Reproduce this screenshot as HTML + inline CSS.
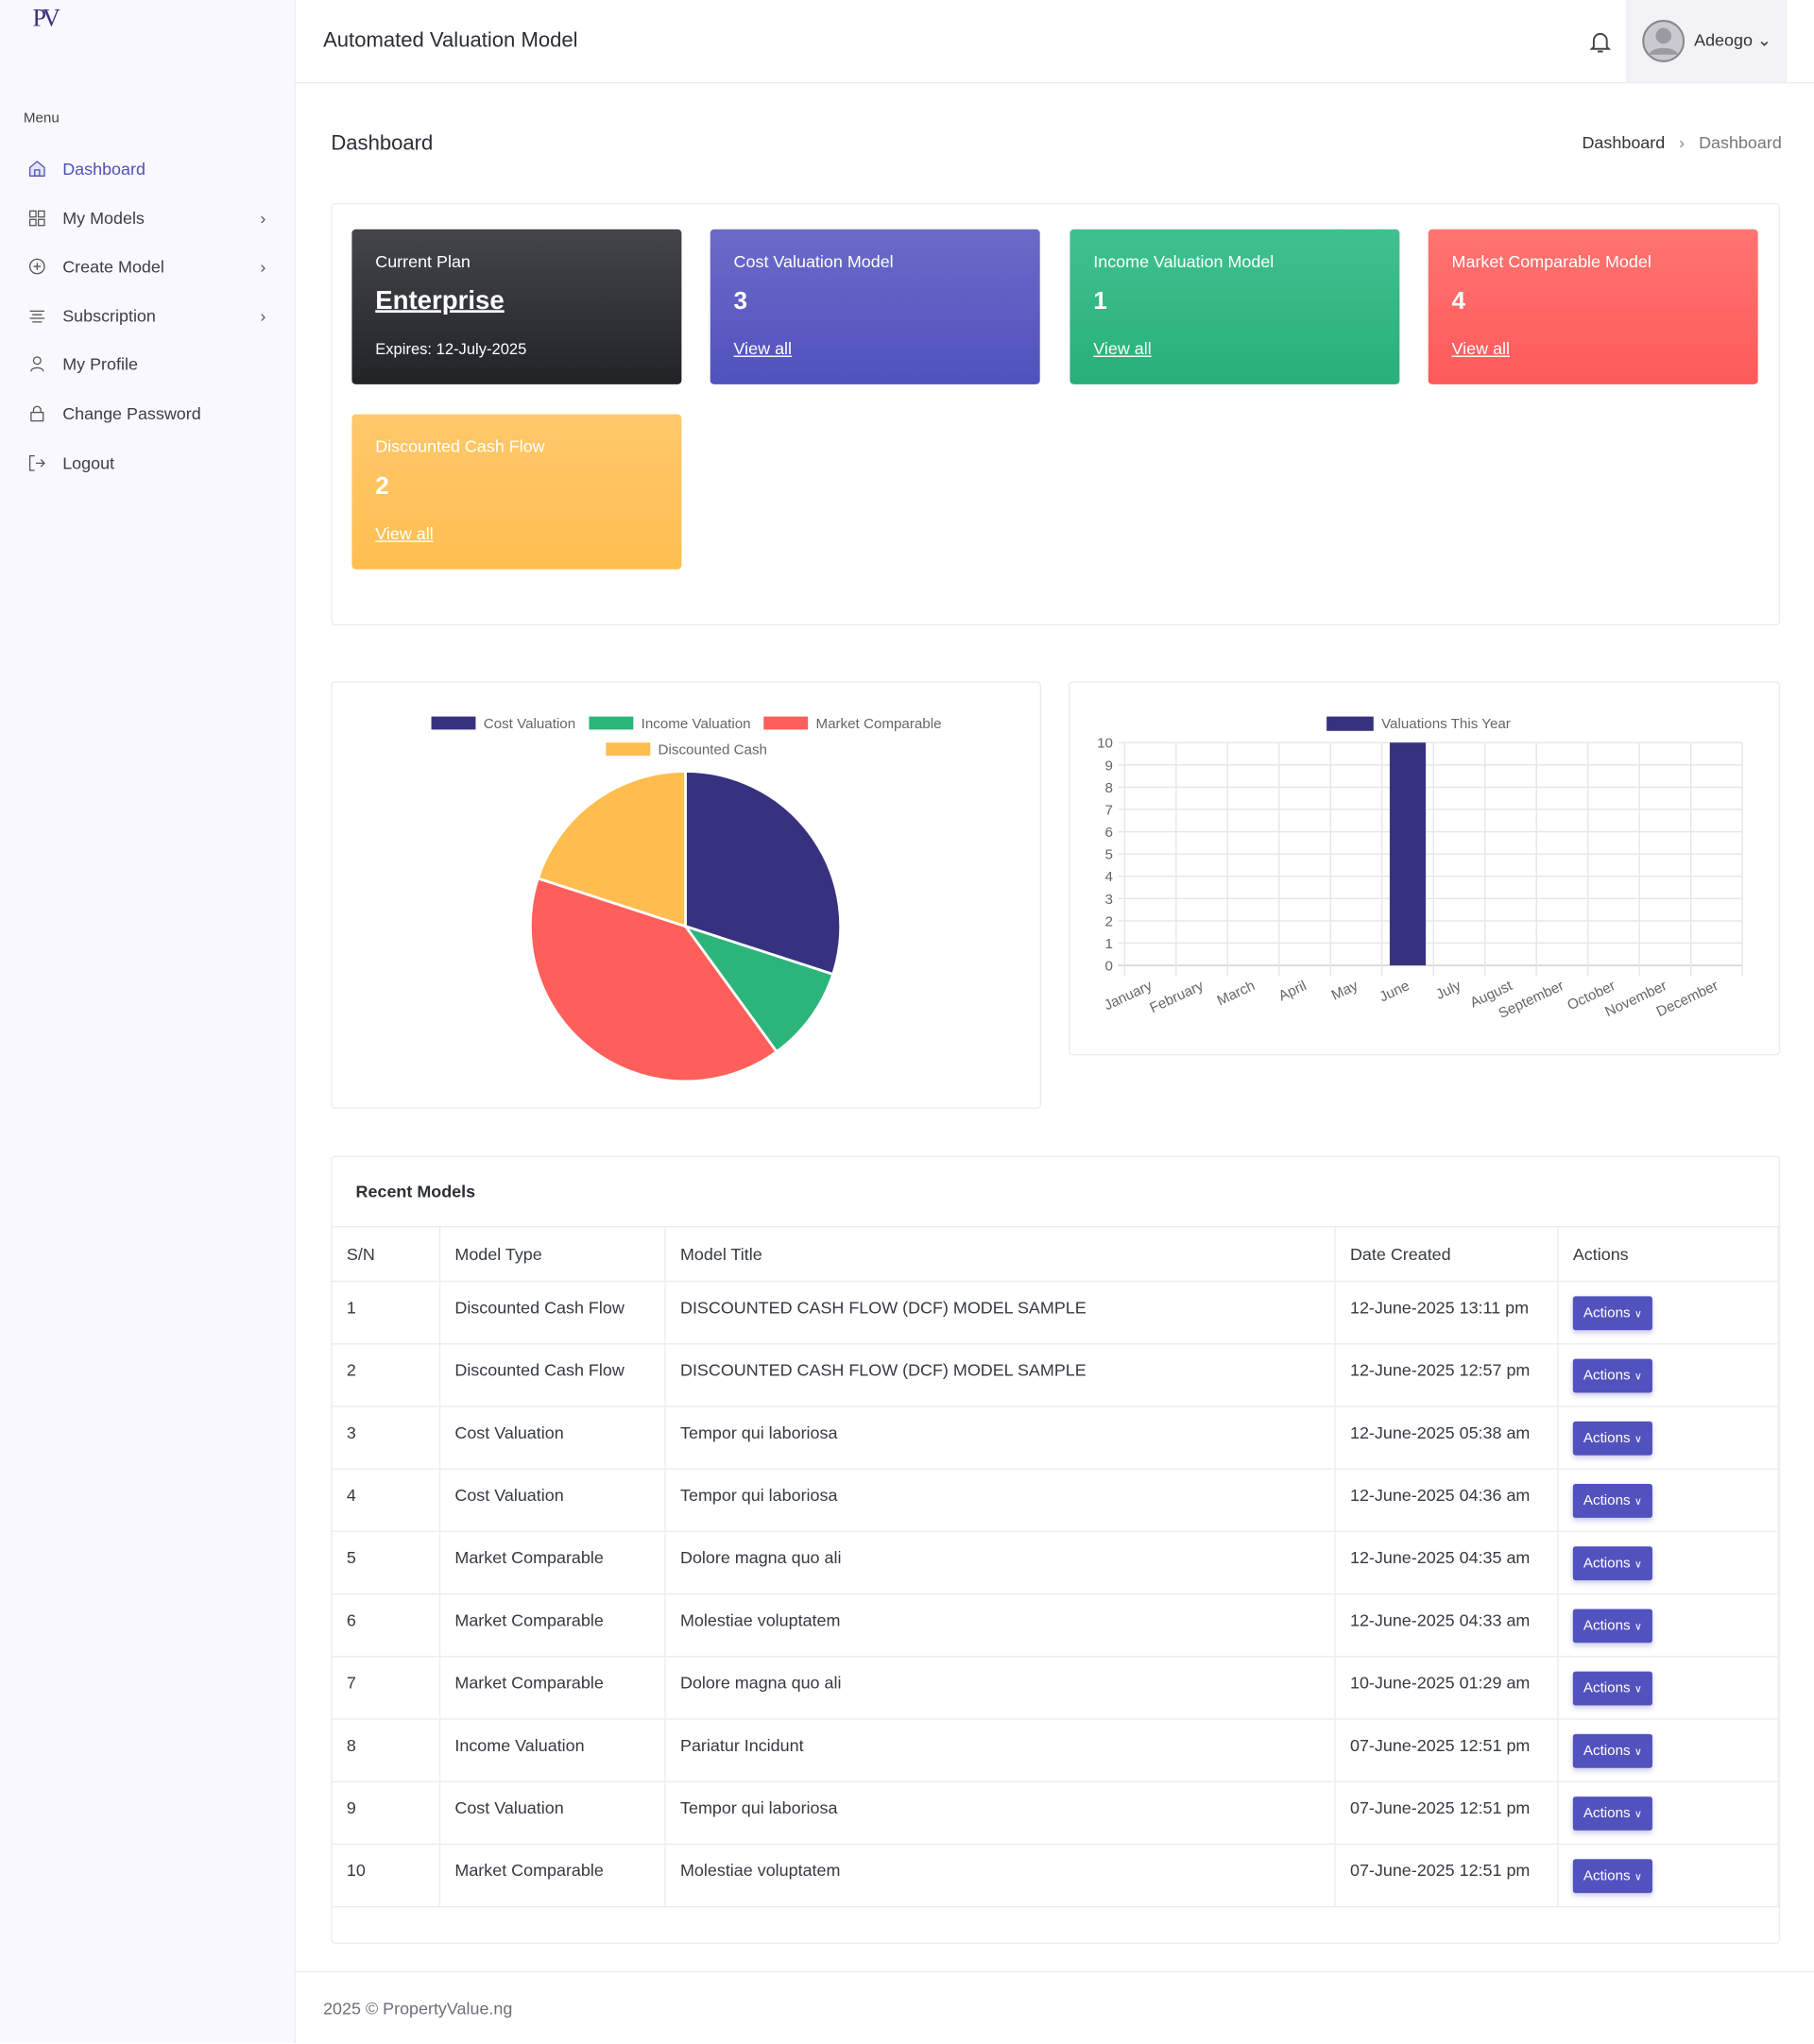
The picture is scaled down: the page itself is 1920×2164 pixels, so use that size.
<!DOCTYPE html>
<html><head><meta charset="utf-8"><style>
html,body{margin:0;padding:0;width:1920px;height:2162px;overflow:hidden;background:#fff;}
#wrap{position:absolute;left:0;top:0;width:1392px;height:1568px;transform:scale(1.37931);transform-origin:0 0;font-family:"Liberation Sans",sans-serif;color:#343a40;}
.abs{position:absolute;}
#sidebar{left:0;top:0;width:226px;height:1568px;background:#f8f8fe;border-right:1px solid #ececf3;}
.mi{position:absolute;left:18px;font-size:13px;color:#3b3f46;height:20px;line-height:20px;width:190px;}
.mi .ic{position:absolute;left:4px;top:3px;width:13px;height:13px;}
.mi .tx{position:absolute;left:30px;}
.mi .ch{position:absolute;right:4px;top:0;color:#555;font-size:13px;}
#header{left:227px;top:0;width:1165px;height:63px;border-bottom:1px solid #ececf3;background:#fff;}
.card{position:absolute;border:1px solid #ececf1;border-radius:3px;background:#fff;}
.stat{position:absolute;width:253px;height:119px;border-radius:3px;color:#fff;}
.stat .t{position:absolute;left:18px;top:17px;font-size:13px;}
.stat .n{position:absolute;left:18px;top:45px;font-size:19px;font-weight:bold;}
.stat .v{position:absolute;left:18px;top:84px;font-size:13px;text-decoration:underline;}
table{border-collapse:collapse;position:absolute;left:254px;top:941px;width:1111px;font-size:13px;color:#343a40;}
td,th{border:1px solid #ececf1;padding:0 11px;text-align:left;font-weight:normal;height:47px;}
tbody td{padding-bottom:8px;height:39px;}
tbody td.a{padding-bottom:0;height:47px;}
th{height:41px;}
.btn{display:inline-block;background:#5252be;color:#fff;font-size:11px;padding:0 8px;height:26px;line-height:26px;border-radius:2px;box-shadow:0 2px 4px rgba(82,82,190,.3);}
</style></head><body>
<div id="wrap">
<div id="sidebar" class="abs">
  <div class="abs" style="left:25px;top:4px;font-family:'Liberation Serif',serif;font-size:19px;color:#37327f;letter-spacing:-3px;">PV</div>
  <div class="abs" style="left:18px;top:85px;font-size:11px;color:#444;">Menu</div>
  <div class="mi" style="top:120px;color:#4f4fb8"><svg class="ic" viewBox="0 0 14 14"><path d="M1 6L7 1l6 5v7H1z" fill="#e4e4f7" stroke="#4f4fb8"/><rect x="5" y="8" width="4" height="5" fill="none" stroke="#4f4fb8"/></svg><span class="tx">Dashboard</span></div>
  <div class="mi" style="top:158px"><svg class="ic" viewBox="0 0 14 14" fill="none" stroke="#555"><rect x="1" y="1" width="5" height="5"/><rect x="8" y="1" width="5" height="5"/><rect x="1" y="8" width="5" height="5"/><rect x="8" y="8" width="5" height="5"/></svg><span class="tx">My Models</span><span class="ch">›</span></div>
  <div class="mi" style="top:195px"><svg class="ic" viewBox="0 0 14 14" fill="none" stroke="#555"><circle cx="7" cy="7" r="6"/><path d="M7 4v6M4 7h6"/></svg><span class="tx">Create Model</span><span class="ch">›</span></div>
  <div class="mi" style="top:233px"><svg class="ic" viewBox="0 0 14 14" fill="none" stroke="#555"><path d="M1 3h12M3 6h8M1 9h12M3 12h8"/></svg><span class="tx">Subscription</span><span class="ch">›</span></div>
  <div class="mi" style="top:270px"><svg class="ic" viewBox="0 0 14 14" fill="none" stroke="#555"><circle cx="7" cy="4" r="3"/><path d="M2 13c0-4 10-4 10 0"/></svg><span class="tx">My Profile</span></div>
  <div class="mi" style="top:308px"><svg class="ic" viewBox="0 0 14 14" fill="none" stroke="#555"><rect x="2" y="6" width="10" height="7"/><path d="M4 6V4a3 3 0 016 0v2"/></svg><span class="tx">Change Password</span></div>
  <div class="mi" style="top:346px"><svg class="ic" viewBox="0 0 14 14" fill="none" stroke="#555"><path d="M5 1H1v12h4M6 7h7M10 4l3 3-3 3"/></svg><span class="tx">Logout</span></div>
</div>
<div id="header" class="abs">
  <div class="abs" style="left:21px;top:23px;font-size:16px;color:#2b2f33;">Automated Valuation Model</div>
  <svg class="abs" style="left:993px;top:23px" width="16" height="18" viewBox="0 0 16 18" fill="none" stroke="#444" stroke-width="1.4"><path d="M3 13V8a5 5 0 0110 0v5l1.5 1.5h-13z"/><path d="M6 16.5h4"/></svg>
  <div class="abs" style="left:1021px;top:0;width:121px;height:63px;background:#f3f3f7;border-left:1px solid #ececf1;border-right:1px solid #ececf1;">
    <svg class="abs" style="left:11px;top:15px" width="33" height="33" viewBox="0 0 33 33"><circle cx="16.5" cy="16.5" r="15.5" fill="#c9c9cf" stroke="#888" stroke-width="1.5"/><circle cx="16.5" cy="12.5" r="6" fill="#9a9aa2"/><path d="M5 27c3-7 20-7 23 0" fill="#9a9aa2"/></svg>
    <div class="abs" style="left:51px;top:23px;font-size:13px;color:#333;">Adeogo ⌄</div>
  </div>
</div>
<div class="abs" style="left:254px;top:102px;font-size:16px;color:#2b2f33;">Dashboard</div>
<div class="abs" style="left:1214px;top:102px;font-size:13px;color:#333;">Dashboard &nbsp;&nbsp;<span style="color:#888">›</span>&nbsp;&nbsp; <span style="color:#777">Dashboard</span></div>

<div class="card" style="left:254px;top:156px;width:1110px;height:322px;"></div>
<div class="stat" style="left:270px;top:176px;background:linear-gradient(#43464b,#212327);"><div class="t">Current Plan</div><div class="n" style="top:44px;font-size:20px;text-decoration:underline">Enterprise</div><div class="v" style="text-decoration:none;font-size:12px;top:85px">Expires: 12-July-2025</div></div>
<div class="stat" style="left:545px;top:176px;background:linear-gradient(#6b6bc9,#5151bd);"><div class="t">Cost Valuation Model</div><div class="n">3</div><div class="v">View all</div></div>
<div class="stat" style="left:821px;top:176px;background:linear-gradient(#40c190,#28b079);"><div class="t">Income Valuation Model</div><div class="n">1</div><div class="v">View all</div></div>
<div class="stat" style="left:1096px;top:176px;background:linear-gradient(#ff7471,#fd5a5a);"><div class="t">Market Comparable Model</div><div class="n">4</div><div class="v">View all</div></div>
<div class="stat" style="left:270px;top:318px;background:linear-gradient(#ffc86b,#ffbe50);"><div class="t">Discounted Cash Flow</div><div class="n">2</div><div class="v">View all</div></div>

<div class="card" style="left:254px;top:523px;width:543px;height:326px;"></div>
<div class="card" style="left:820px;top:523px;width:544px;height:285px;"></div>
<svg id="charts" class="abs" style="left:0;top:0" width="1392" height="900"></svg>

<div class="card" style="left:254px;top:887px;width:1110px;height:603px;"></div>
<div class="abs" style="left:273px;top:907px;font-size:13px;font-weight:bold;color:#2b2f33;">Recent Models</div>
<table>
<colgroup><col style="width:83px"><col style="width:173px"><col style="width:514px"><col style="width:171px"><col></colgroup>
<thead><tr><th>S/N</th><th>Model Type</th><th>Model Title</th><th>Date Created</th><th>Actions</th></tr></thead>
<tbody id="tb"></tbody></table>

<div class="abs" style="left:227px;top:1513px;width:1165px;border-top:1px solid #ececf1;height:55px;"></div>
<div class="abs" style="left:248px;top:1534px;font-size:13px;color:#6c6f74;">2025 © PropertyValue.ng</div>
</div>
<script>
// Pie data
const pieLabels=["Cost Valuation","Income Valuation","Market Comparable","Discounted Cash"];
const pieValues=[3,1,4,2];
const pieColors=["#37327f","#2bb57b","#fe5f5a","#ffbd4f"];
// Bar data
const months=["January","February","March","April","May","June","July","August","September","October","November","December"];
const barValues=[0,0,0,0,0,10,0,0,0,0,0,0];
const yTicks=[0,1,2,3,4,5,6,7,8,9,10];
// Table data
const rowTypes=["Discounted Cash Flow","Discounted Cash Flow","Cost Valuation","Cost Valuation","Market Comparable","Market Comparable","Market Comparable","Income Valuation","Cost Valuation","Market Comparable"];
const rowTitles=["DISCOUNTED CASH FLOW (DCF) MODEL SAMPLE","DISCOUNTED CASH FLOW (DCF) MODEL SAMPLE","Tempor qui laboriosa","Tempor qui laboriosa","Dolore magna quo ali","Molestiae voluptatem","Dolore magna quo ali","Pariatur Incidunt","Tempor qui laboriosa","Molestiae voluptatem"];
const rowDates=["12-June-2025 13:11 pm","12-June-2025 12:57 pm","12-June-2025 05:38 am","12-June-2025 04:36 am","12-June-2025 04:35 am","12-June-2025 04:33 am","10-June-2025 01:29 am","07-June-2025 12:51 pm","07-June-2025 12:51 pm","07-June-2025 12:51 pm"];

const NS="http://www.w3.org/2000/svg";
const svg=document.getElementById('charts');
function mk(tag,attrs,parent){const e=document.createElementNS(NS,tag);for(const k in attrs)e.setAttribute(k,attrs[k]);(parent||svg).appendChild(e);return e;}

// Pie legend
const legPos=[[331,555],[452,555],[586,555],[465,575]];
pieLabels.forEach((l,i)=>{
  const r=mk('rect',{x:legPos[i][0],y:legPos[i][1]-5,width:34,height:10,fill:pieColors[i]});
  
  
  const t=mk('text',{x:legPos[i][0]+40,y:legPos[i][1]+4,'font-size':11,fill:'#666','font-family':'Liberation Sans, sans-serif'});
  t.textContent=l;
  
  
});
// Pie slices
const cx=526,cy=711,R=119;
const total=pieValues.reduce((a,b)=>a+b,0);
let ang=-Math.PI/2;
pieValues.forEach((v,i)=>{
  const a2=ang+v/total*2*Math.PI;
  const large=(a2-ang)>Math.PI?1:0;
  const d=`M${cx},${cy}L${cx+R*Math.cos(ang)},${cy+R*Math.sin(ang)}A${R},${R} 0 ${large} 1 ${cx+R*Math.cos(a2)},${cy+R*Math.sin(a2)}Z`;
  const p=mk('path',{d:d,fill:pieColors[i],stroke:'#fff','stroke-width':2});
  
  
  ang=a2;
});

// Bar chart
const px0=863,px1=1337,py0=741,py1=570,ymax=10;
const ys=v=>py0-(v/ymax)*(py0-py1);
const cw=(px1-px0)/months.length;
const xs=i=>px0+cw*i;
const lr=mk('rect',{x:1018,y:550,width:36,height:11,fill:'#37327f'});


const lt=mk('text',{x:1060,y:559,'font-size':11,fill:'#666','font-family':'Liberation Sans, sans-serif'});
lt.textContent='Valuations This Year';


yTicks.forEach(v=>{
  const g=mk('line',{x1:px0-5,x2:px1,y1:ys(v),y2:ys(v),stroke:v===0?'#ccc':'#e6e6e6','stroke-width':1});
  
  
  const t=mk('text',{x:854,y:ys(v)+4,'text-anchor':'end','font-size':11,fill:'#666','font-family':'Liberation Sans, sans-serif'});
  t.textContent=v;
  
  
});
for(let i=0;i<=months.length;i++){
  const g=mk('line',{x1:xs(i),x2:xs(i),y1:py1,y2:py0+8,stroke:'#e6e6e6','stroke-width':1});
  
  
}
months.forEach((m,i)=>{
  const bw=cw*0.7;
  const b=mk('rect',{x:xs(i)+(cw-bw)/2,y:ys(barValues[i]),width:bw,height:py0-ys(barValues[i]),fill:'#37327f'});
  
  
  const tx=xs(i)+cw/2+2, ty=py0+18;
  const t=mk('text',{x:tx,y:ty,'text-anchor':'end','font-size':11,fill:'#666','font-family':'Liberation Sans, sans-serif',transform:`rotate(-25 ${tx} ${ty})`});
  t.textContent=m;
  
  
});

// Table
const tb=document.getElementById('tb');
rowTypes.forEach((t,i)=>{
  const tr=document.createElement('tr');
  
  
  tr.innerHTML=`<td>${i+1}</td><td>${t}</td><td>${rowTitles[i]}</td><td>${rowDates[i]}</td><td class="a"><span class="btn"></span></td>`;
  const btn=tr.querySelector('.btn');
  btn.innerHTML='Actions <span style="font-size:8px">&#x2228;</span>';
  
  
  tb.appendChild(tr);
});
</script>
</body></html>
